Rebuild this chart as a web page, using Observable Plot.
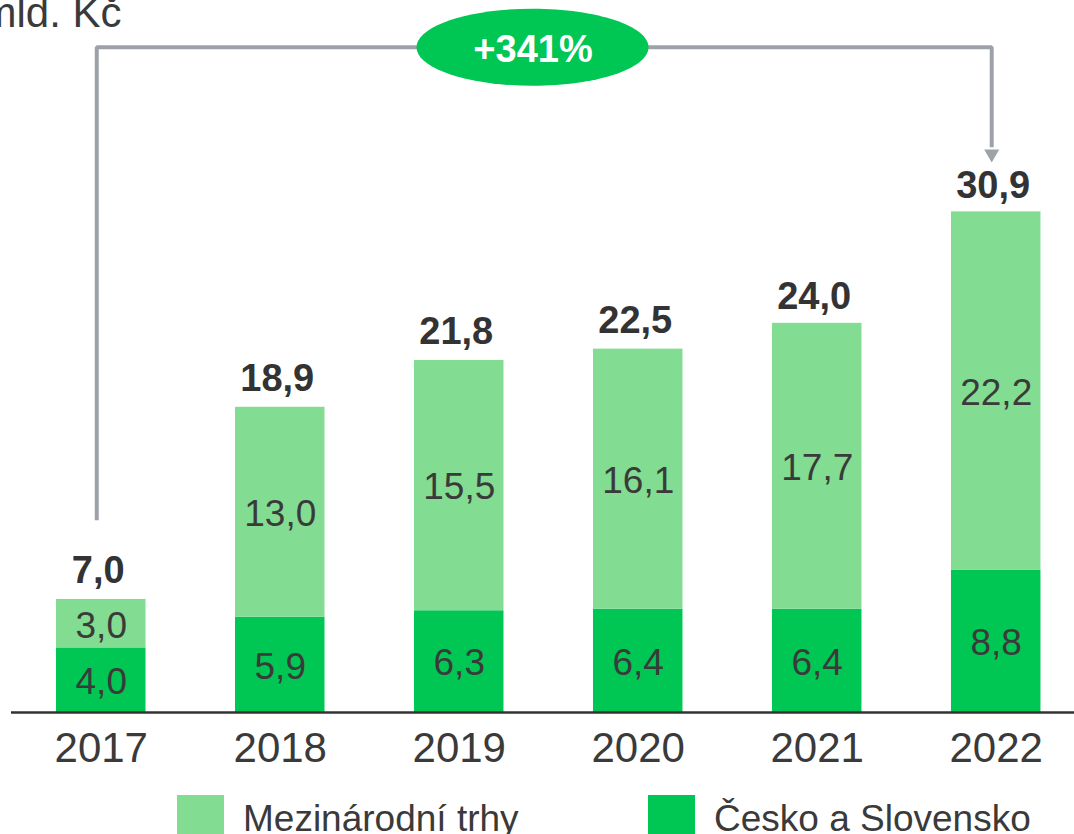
<!DOCTYPE html>
<html><head><meta charset="utf-8">
<script src="https://cdn.jsdelivr.net/npm/d3@7"></script>
<script src="https://cdn.jsdelivr.net/npm/@observablehq/plot@0.6"></script>
<style>
body{margin:0;background:#fff;font-family:"Liberation Sans",Arial,sans-serif;overflow:hidden}
#chart svg{display:block}
.legend{position:relative;height:44px;}
.sw{position:absolute;top:5px;width:47px;height:47px}
.lt{position:absolute;top:10px;font-size:37px;line-height:37px;color:#3a3a3a;white-space:nowrap}
</style></head><body>
<div id="chart"></div>
<div class="legend" id="legend"></div>
<script>
// ---- data ----
const years = ["2017","2018","2019","2020","2021","2022"];
const domestic = [4.0, 5.9, 6.3, 6.4, 6.4, 8.8];        // Česko a Slovensko
const international = [3.0, 13.0, 15.5, 16.1, 17.7, 22.2]; // Mezinárodní trhy
const totals = [7.0, 18.9, 21.8, 22.5, 24.0, 30.9];
const seriesDomestic = "Česko a Slovensko";
const seriesInternational = "Mezinárodní trhy";
const legendOrder = [seriesInternational, seriesDomestic];
const growthLabel = "+341%";
const unitLabel = "mld. Kč";
const bracketTop = 41.2, bracketLeftBottom = 11.9, bracketRightEnd = 35, arrowLevel = 34.6;

// ---- styles ----
const darkGreen = "#00c653", lightGreen = "#82dc91", gray = "#9da1a8", textColor = "#3a3a3a";
const fmt = v => d3.format(".1f")(v).replace(".", ",");

const rows = [];
years.forEach((y, i) => {
  rows.push({year: y, series: seriesDomestic, value: domestic[i]});
  rows.push({year: y, series: seriesInternational, value: international[i]});
});
const totalRows = years.map((y, i) => ({year: y, total: totals[i]}));
const bracket = [
  {x: years[0], y: bracketLeftBottom},
  {x: years[0], y: bracketTop},
  {x: years[years.length - 1], y: bracketTop},
  {x: years[years.length - 1], y: bracketRightEnd}
];

const ellipseSymbol = {
  draw(ctx) {
    const rx = 116, ry = 38.5, k = 0.5523;
    ctx.moveTo(-rx, 0);
    ctx.bezierCurveTo(-rx, -ry * k, -rx * k, -ry, 0, -ry);
    ctx.bezierCurveTo(rx * k, -ry, rx, -ry * k, rx, 0);
    ctx.bezierCurveTo(rx, ry * k, rx * k, ry, 0, ry);
    ctx.bezierCurveTo(-rx * k, ry, -rx, ry * k, -rx, 0);
    ctx.closePath();
  }
};

const plot = Plot.plot({
  width: 1074, height: 790,
  marginLeft: 11, marginRight: 0, marginTop: 0, marginBottom: 78,
  x: {domain: years, paddingInner: 0.5, paddingOuter: 0.2194, align: 0.573, round: false, axis: null},
  y: {domain: [0, 44.09], axis: null},
  color: {domain: [seriesDomestic, seriesInternational], range: [darkGreen, lightGreen]},
  style: {fontFamily: "'Liberation Sans', Arial, sans-serif", color: textColor, background: "white", overflow: "visible"},
  marks: [
    Plot.barY(rows, {x: "year", y: "value", fill: "series"}),
    Plot.text(rows, Plot.stackY({x: "year", y: "value", text: d => fmt(d.value), fontSize: 37, fill: textColor, dy: 2})),
    Plot.text(totalRows, {x: "year", y: "total", text: d => fmt(d.total), fontSize: 38, fontWeight: "bold", fill: "#333", lineAnchor: "bottom", dy: -16, dx: -3}),
    Plot.ruleY([0], {stroke: "#333", strokeWidth: 2.5}),
    Plot.axisX({tickSize: 0, tickPadding: 20, fontSize: 42, label: null, fill: textColor}),
    Plot.line(bracket, {x: "x", y: "y", stroke: gray, strokeWidth: 4, dx: -4.5, strokeLinejoin: "miter", strokeLinecap: "butt"}),
    Plot.dot([arrowLevel], {x: () => years[years.length - 1], y: d => d, symbol: "triangle", rotate: 180, r: 5.6, fill: gray, stroke: null, dx: -4.5}),
    Plot.dot([bracketTop], {y: d => d, frameAnchor: "middle", dx: -10.5, symbol: ellipseSymbol, r: 1, fill: darkGreen, stroke: null}),
    Plot.text([growthLabel], {y: () => bracketTop, frameAnchor: "middle", dx: -10, dy: 3, text: d => d, fill: "white", fontWeight: "bold", fontSize: 38}),
    Plot.text([unitLabel], {frameAnchor: "top-left", dx: -30, dy: -3, lineAnchor: "top", textAnchor: "start", text: d => d, fontSize: 42, fill: textColor})
  ]
});
document.getElementById("chart").appendChild(plot);

// ---- legend (HTML, below the SVG) ----
const legendColors = {[seriesDomestic]: darkGreen, [seriesInternational]: lightGreen};
const legendPos = [{sw: 177, lt: 243}, {sw: 648, lt: 714}];
const legend = document.getElementById("legend");
legendOrder.forEach((name, i) => {
  const sw = document.createElement("div");
  sw.className = "sw"; sw.style.left = legendPos[i].sw + "px"; sw.style.background = legendColors[name];
  const lt = document.createElement("div");
  lt.className = "lt"; lt.style.left = legendPos[i].lt + "px"; lt.textContent = name;
  legend.appendChild(sw); legend.appendChild(lt);
});
</script></body></html>
